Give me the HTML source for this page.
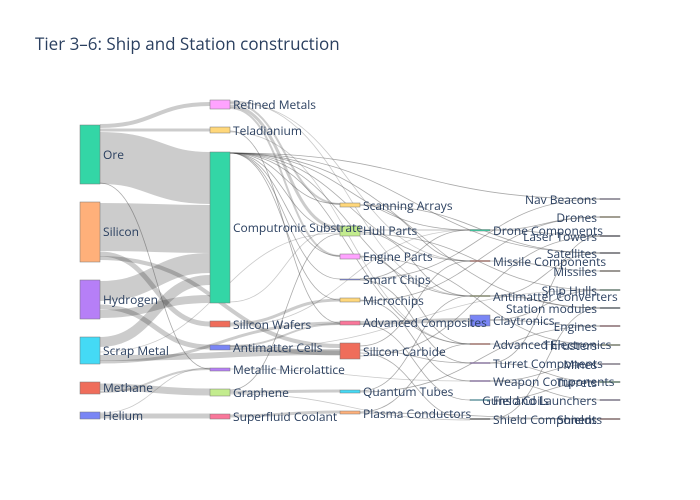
<!DOCTYPE html>
<html><head><meta charset="utf-8"><style>
html,body{margin:0;padding:0;background:#fff;}
svg{display:block;font-family:"Open Sans","Liberation Sans",sans-serif;}
.l{fill:none;stroke:#000;stroke-opacity:.2;}
.d{fill:none;stroke:#444;stroke-opacity:.45;stroke-width:.8;}
.g{fill:none;stroke:#666;stroke-opacity:.35;stroke-width:.8;}
text{font-size:12px;fill:#2a3f5f;}
rect{stroke:#777;stroke-width:.5;}
</style></head><body>
<svg width="700" height="500" viewBox="0 0 700 500">
<text x="35" y="50" style="font-size:17px;fill:#2a3f5f">Tier 3–6: Ship and Station construction</text>
<path class="l" stroke-width="4" d="M100 126 C155 126 155 104 210 104"/>
<path class="l" stroke-width="3" d="M100 130 C155 130 155 130 210 130"/>
<path class="l" stroke-width="52" d="M100 158 C155 158 155 178 210 178"/>
<path class="l" stroke-width="48" d="M100 227 C155 227 155 229 210 229"/>
<path class="l" stroke-width="5" d="M100 254 C155 254 155 324 210 324"/>
<path class="l" stroke-width="4" d="M100 258 C220 258 220 346 340 346"/>
<path class="l" stroke-width="20" d="M100 291 C155 291 155 263 210 263"/>
<path class="l" stroke-width="5" d="M100 307 C155 307 155 347 210 347"/>
<path class="l" stroke-width="8" d="M100 314 C155 314 155 299 210 299"/>
<path class="l" stroke-width="10" d="M100 342 C155 342 155 280 210 280"/>
<path class="l" stroke-width="6" d="M100 358 C220 358 220 352 340 352"/>
<path class="l" stroke-width="3" d="M100 362 C220 362 220 323 340 323"/>
<path class="l" stroke-width="7" d="M100 387 C155 387 155 392 210 392"/>
<path class="l" stroke-width="2" d="M100 392 C155 392 155 369 210 369"/>
<path class="l" stroke-width="5" d="M100 416 C155 416 155 416 210 416"/>
<path class="g" d="M100 413 C155 413 155 368 210 368"/>
<path class="d" d="M100 183 C155 183 155 369 210 369"/>
<path class="g" d="M100 352 C220 352 220 233 340 233"/>
<path class="l" stroke-width="2" d="M230 103 C285 103 285 204 340 204"/>
<path class="l" stroke-width="3" d="M230 106 C285 106 285 228 340 228"/>
<path class="l" stroke-width="2" d="M230 108 C285 108 285 256 340 256"/>
<path class="g" d="M230 101 C350 101 350 296 470 296"/>
<path class="g" d="M230 102 C350 102 350 261 470 261"/>
<path class="d" d="M230 131 C285 131 285 323 340 323"/>
<path class="g" d="M230 132 C350 132 350 344 470 344"/>
<path class="l" stroke-width="3" d="M230 324 C285 324 285 300 340 300"/>
<path class="l" stroke-width="2" d="M230 346 C285 346 285 324 340 324"/>
<path class="l" stroke-width="5" d="M230 348 C285 348 285 353 340 353"/>
<path class="l" stroke-width="3" d="M230 392 C285 392 285 391 340 391"/>
<path class="l" stroke-width="3" d="M230 416 C285 416 285 412 340 412"/>
<path class="d" d="M230 390 C285 390 285 234 340 234"/>
<path class="g" d="M230 369 C350 369 350 381 470 381"/>
<path class="g" d="M230 394 C350 394 350 420 470 420"/>
<path class="g" d="M230 302 C285 302 285 229 340 229"/>
<path class="g" d="M230 326 C350 326 350 230 470 230"/>
<path class="g" d="M230 349 C415 349 415 290 600 290"/>
<path class="d" d="M230 153 C285 153 285 204 340 204"/>
<path class="d" d="M230 153 C285 153 285 230 340 230"/>
<path class="d" d="M230 153 C285 153 285 256 340 256"/>
<path class="d" d="M230 153 C285 153 285 279 340 279"/>
<path class="d" d="M230 153 C285 153 285 300 340 300"/>
<path class="d" d="M230 153 C350 153 350 230 470 230"/>
<path class="d" d="M230 153 C350 153 350 261 470 261"/>
<path class="d" d="M230 153 C350 153 350 296 470 296"/>
<path class="d" d="M230 153 C350 153 350 344 470 344"/>
<path class="d" d="M230 153 C415 153 415 253 600 253"/>
<path class="d" d="M230 153 C415 153 415 308 600 308"/>
<path class="d" d="M230 153 C415 153 415 199 600 199"/>
<path class="l" stroke-width="4" d="M360 323 C415 323 415 320 470 320"/>
<path class="d" d="M360 230 C415 230 415 230 470 230"/>
<path class="d" d="M360 205 C415 205 415 261 470 261"/>
<path class="d" d="M360 205 C480 205 480 253 600 253"/>
<path class="d" d="M360 232 C415 232 415 296 470 296"/>
<path class="d" d="M360 234 C480 234 480 290 600 290"/>
<path class="d" d="M360 256 C415 256 415 344 470 344"/>
<path class="d" d="M360 257 C480 257 480 345 600 345"/>
<path class="d" d="M360 279 C415 279 415 230 470 230"/>
<path class="d" d="M360 279 C480 279 480 199 600 199"/>
<path class="d" d="M360 280 C415 280 415 363 470 363"/>
<path class="d" d="M360 300 C415 300 415 381 470 381"/>
<path class="d" d="M360 301 C480 301 480 217 600 217"/>
<path class="d" d="M360 324 C415 324 415 400 470 400"/>
<path class="d" d="M360 346 C415 346 415 261 470 261"/>
<path class="d" d="M360 350 C415 350 415 363 470 363"/>
<path class="d" d="M360 353 C415 353 415 419 470 419"/>
<path class="d" d="M360 356 C480 356 480 236 600 236"/>
<path class="d" d="M360 391 C415 391 415 296 470 296"/>
<path class="d" d="M360 392 C480 392 480 326 600 326"/>
<path class="d" d="M360 412 C415 412 415 344 470 344"/>
<path class="d" d="M360 413 C480 413 480 419 600 419"/>
<path class="d" d="M490 230 C545 230 545 217 600 217"/>
<path class="d" d="M490 230 C545 230 545 236 600 236"/>
<path class="d" d="M490 261 C545 261 545 271 600 271"/>
<path class="d" d="M490 296 C545 296 545 308 600 308"/>
<path class="d" d="M490 296 C545 296 545 253 600 253"/>
<path class="d" d="M490 320 C545 320 545 326 600 326"/>
<path class="d" d="M490 320 C545 320 545 290 600 290"/>
<path class="d" d="M490 344 C545 344 545 345 600 345"/>
<path class="d" d="M490 363 C545 363 545 382 600 382"/>
<path class="d" d="M490 363 C545 363 545 236 600 236"/>
<path class="d" d="M490 381 C545 381 545 400 600 400"/>
<path class="d" d="M490 381 C545 381 545 364 600 364"/>
<path class="d" d="M490 400 C545 400 545 382 600 382"/>
<path class="d" d="M490 419 C545 419 545 419 600 419"/>
<path class="d" d="M490 419 C545 419 545 308 600 308"/>
<rect x="80" y="125" width="20" height="59" fill="#33d6a6"/>
<rect x="80" y="202" width="20" height="60" fill="#ffb07a"/>
<rect x="80" y="280" width="20" height="39" fill="#b67ff7"/>
<rect x="80" y="337" width="20" height="27" fill="#44daf5"/>
<rect x="80" y="382" width="20" height="12" fill="#ef6d5b"/>
<rect x="80" y="412" width="20" height="7" fill="#7a86f5"/>
<rect x="210" y="100" width="20" height="9" fill="#ffa3ff"/>
<rect x="210" y="127" width="20" height="6" fill="#ffd77a"/>
<rect x="210" y="152" width="20" height="151" fill="#33d6a6"/>
<rect x="210" y="321" width="20" height="6" fill="#ef6d5b"/>
<rect x="210" y="345" width="20" height="5" fill="#7a86f5"/>
<rect x="210" y="368" width="20" height="3" fill="#b67ff7"/>
<rect x="210" y="389" width="20" height="7" fill="#c3ec8e"/>
<rect x="210" y="414" width="20" height="5" fill="#f9779a"/>
<rect x="340" y="203" width="20" height="4" fill="#ffd77a"/>
<rect x="340" y="226" width="20" height="10" fill="#c3ec8e"/>
<rect x="340" y="254" width="20" height="5" fill="#ffa3ff"/>
<rect x="340" y="279" width="20" height="1" fill="#7a86f5"/>
<rect x="340" y="298" width="20" height="4" fill="#ffd77a"/>
<rect x="340" y="321" width="20" height="4" fill="#f9779a"/>
<rect x="340" y="343" width="20" height="16" fill="#ef6d5b"/>
<rect x="340" y="390" width="20" height="3" fill="#44daf5"/>
<rect x="340" y="411" width="20" height="3" fill="#ffb07a"/>
<rect x="470" y="229.5" width="20" height="1.5" fill="#33d6a6" stroke="none"/>
<rect x="470" y="260.5" width="20" height="1" fill="#ef6d5b" stroke="none"/>
<rect x="470" y="295.5" width="20" height="1" fill="#9aa860" stroke="none"/>
<rect x="470" y="315" width="20" height="11" fill="#7a86f5"/>
<rect x="470" y="343.5" width="20" height="1" fill="#ef6d5b" stroke="none"/>
<rect x="470" y="362.5" width="20" height="1" fill="#b67ff7" stroke="none"/>
<rect x="470" y="380.5" width="20" height="1" fill="#b67ff7" stroke="none"/>
<rect x="470" y="399.5" width="20" height="1" fill="#44daf5" stroke="none"/>
<rect x="470" y="418.5" width="20" height="1" fill="#555" stroke="none"/>
<g stroke="none">
<rect x="600" y="198.5" width="20" height="1" fill="#8a7fa8"/>
<rect x="600" y="216.5" width="20" height="1" fill="#a09060"/>
<rect x="600" y="235.5" width="20" height="1" fill="#334"/>
<rect x="600" y="252.5" width="20" height="1" fill="#445"/>
<rect x="600" y="270.5" width="20" height="1" fill="#876"/>
<rect x="600" y="289.5" width="20" height="1" fill="#4a8a6a"/>
<rect x="600" y="307.5" width="20" height="1" fill="#345"/>
<rect x="600" y="325.5" width="20" height="1" fill="#a56"/>
<rect x="600" y="344.5" width="20" height="1" fill="#7a8a5a"/>
<rect x="600" y="363.5" width="20" height="1" fill="#98a"/>
<rect x="600" y="381.5" width="20" height="1" fill="#3a8a5a"/>
<rect x="600" y="399.5" width="20" height="1" fill="#87a"/>
<rect x="600" y="418.5" width="20" height="1" fill="#955"/>
</g>
<g>
<text x="103" y="159">Ore</text>
<text x="103" y="236">Silicon</text>
<text x="103" y="304">Hydrogen</text>
<text x="103" y="355">Scrap Metal</text>
<text x="103" y="392">Methane</text>
<text x="103" y="420">Helium</text>
<text x="233" y="109">Refined Metals</text>
<text x="233" y="135">Teladianium</text>
<text x="233" y="232">Computronic Substrate</text>
<text x="233" y="329">Silicon Wafers</text>
<text x="233" y="352">Antimatter Cells</text>
<text x="233" y="374">Metallic Microlattice</text>
<text x="233" y="397">Graphene</text>
<text x="233" y="421">Superfluid Coolant</text>
<text x="363" y="210">Scanning Arrays</text>
<text x="363" y="235">Hull Parts</text>
<text x="363" y="261">Engine Parts</text>
<text x="363" y="284">Smart Chips</text>
<text x="363" y="305">Microchips</text>
<text x="363" y="327">Advanced Composites</text>
<text x="363" y="356">Silicon Carbide</text>
<text x="363" y="396">Quantum Tubes</text>
<text x="363" y="418">Plasma Conductors</text>
<text x="493" y="235">Drone Components</text>
<text x="493" y="266">Missile Components</text>
<text x="493" y="301">Antimatter Converters</text>
<text x="493" y="325">Claytronics</text>
<text x="493" y="349">Advanced Electronics</text>
<text x="493" y="368">Turret Components</text>
<text x="493" y="386">Weapon Components</text>
<text x="493" y="405">Field Coils</text>
<text x="493" y="424">Shield Components</text>
</g>
<g text-anchor="end">
<text x="597" y="204">Nav Beacons</text>
<text x="597" y="222">Drones</text>
<text x="597" y="241">Laser Towers</text>
<text x="597" y="258">Satellites</text>
<text x="597" y="276">Missiles</text>
<text x="597" y="295">Ship Hulls</text>
<text x="597" y="313">Station modules</text>
<text x="597" y="331">Engines</text>
<text x="597" y="350">Thrusters</text>
<text x="597" y="369">Mines</text>
<text x="597" y="387">Turrets</text>
<text x="597" y="405">Guns and Launchers</text>
<text x="597" y="424">Shields</text>
</g>
</svg>
</body></html>
